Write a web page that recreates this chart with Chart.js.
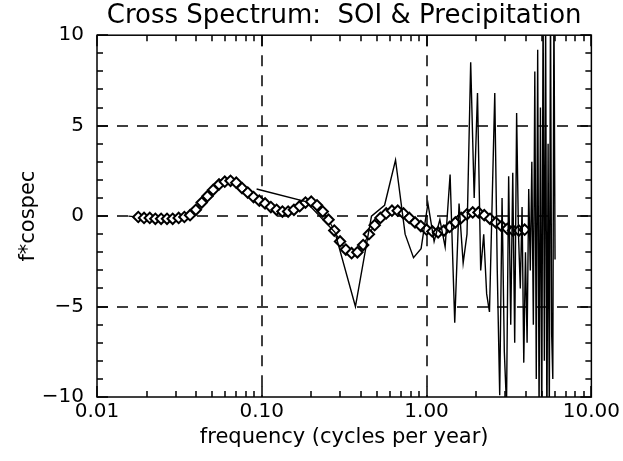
<!DOCTYPE html>
<html>
<head>
<meta charset="utf-8">
<title>Cross Spectrum: SOI & Precipitation</title>
<script src="https://cdn.jsdelivr.net/npm/chart.js@4.4.1/dist/chart.umd.min.js"></script>
<style>
  html, body { margin: 0; padding: 0; background: #fff; }
  canvas { display: block; }
</style>
</head>
<body>
<canvas id="chart" width="623" height="461"></canvas>
<script>
// smoothed cospectrum (diamonds)
const smoothFreq = [0.0155, 0.0178, 0.0193, 0.0209, 0.0226, 0.0245, 0.0266, 0.0288, 0.0313, 0.0339,
  0.0367, 0.0398, 0.0432, 0.0468, 0.0507, 0.0550, 0.0596, 0.0646, 0.0700, 0.0759,
  0.0822, 0.0891, 0.0966, 0.1047, 0.1135, 0.1230, 0.1334, 0.1445, 0.1567, 0.1698,
  0.1841, 0.1995, 0.2163, 0.2344, 0.2541, 0.2754, 0.2985, 0.3236, 0.3508, 0.3802,
  0.4121, 0.4467, 0.4842, 0.5248, 0.5689, 0.6166, 0.6683, 0.7244, 0.7852, 0.8511,
  0.9226, 1.000, 1.084, 1.175, 1.274, 1.380, 1.496, 1.622, 1.758, 1.905,
  2.065, 2.239, 2.427, 2.630, 2.851, 3.090, 3.350, 3.631, 3.936];
const smoothValues = [0, -0.05, -0.1, -0.1, -0.15, -0.15, -0.15, -0.15, -0.1, -0.05,
  0.05, 0.35, 0.75, 1.1, 1.45, 1.75, 1.9, 1.95, 1.85, 1.55,
  1.3, 1.05, 0.85, 0.7, 0.5, 0.35, 0.25, 0.25, 0.35, 0.55,
  0.75, 0.8, 0.6, 0.25, -0.2, -0.8, -1.4, -1.85, -2.05, -2.0,
  -1.6, -1.0, -0.5, -0.1, 0.15, 0.3, 0.3, 0.15, -0.1, -0.35,
  -0.55, -0.75, -0.85, -0.9, -0.8, -0.6, -0.35, -0.1, 0.1, 0.2,
  0.2, 0.05, -0.15, -0.35, -0.55, -0.7, -0.8, -0.8, -0.75];

// raw cospectrum (thin line)
const rawFreq = [0.093, 0.185, 0.278, 0.370, 0.463, 0.556, 0.648, 0.741, 0.833, 0.926,
  1.019, 1.111, 1.204, 1.296, 1.389, 1.482, 1.574, 1.667, 1.759, 1.852,
  1.945, 2.037, 2.130, 2.222, 2.315, 2.408, 2.500, 2.593, 2.685, 2.778,
  2.871, 2.963, 3.056, 3.148, 3.241, 3.334, 3.426, 3.519, 3.611, 3.704,
  3.797, 3.889, 3.982, 4.074, 4.167, 4.260, 4.352, 4.445, 4.537, 4.630,
  4.723, 4.815, 4.908, 5.000, 5.093, 5.186, 5.278, 5.371, 5.463, 5.556,
  5.649, 5.741, 5.834, 5.926, 6.019];
const rawValues = [1.5, 0.8, -0.9, -5.0, 0.0, 0.6, 3.1, -1.0, -2.3, -1.8,
  0.7, -1.4, -0.2, -1.7, 2.3, -5.9, 0.7, -2.6, -1.0, 8.5,
  1.0, 6.8, -3.0, -1.0, -4.3, -5.3, 0.8, 6.8, -3.0, -9.9,
  1.0, -7.5, -10.5, 2.2, -6.0, 2.4, -7.0, 5.7, -1.0, -4.0,
  0.5, -8.1, -2.0, -7.0, 1.5, -3.0, 3.0, -6.0, 8.0, -9.0,
  9.2, -11, 6.0, -12, 12, -8, 11, -12, 4.0, -11,
  12, -6.5, -9, 12, -2.4];

const xTickValues = [0.01, 0.1, 1, 10];
const xTickLabels = ['0.01', '0.10', '1.00', '10.00'];
const yTickValues = [-10, -5, 0, 5, 10];
const yTickLabels = ['\u221210', '\u22125', '0', '5', '10'];
const gridX = [0.1, 1];
const gridY = [-5, 0, 5];

const smoothPoints = smoothFreq.map((f, i) => ({ x: f, y: smoothValues[i] }));
const rawPoints = rawFreq.map((f, i) => ({ x: f, y: rawValues[i] }));
// first point only carries the short lead-in line, no marker
const smoothRadius = smoothFreq.map((f, i) => i === 0 ? 0 : 5.2);

const FONT = 'DejaVu Sans';

// Box, inward ticks and dashed reference lines
const framePlugin = {
    id: 'frame',
    beforeDatasetsDraw(chart) {
        const { ctx, chartArea: a, scales: { x, y } } = chart;
        ctx.save();
        ctx.strokeStyle = '#000';
        ctx.lineWidth = 1.5;
        ctx.setLineDash([11, 9]);
        gridX.forEach(v => {
            const px = Math.round(x.getPixelForValue(v));
            ctx.beginPath();
            ctx.moveTo(px, a.top);
            ctx.lineTo(px, a.bottom);
            ctx.stroke();
        });
        gridY.forEach(v => {
            const py = Math.round(y.getPixelForValue(v));
            ctx.beginPath();
            ctx.moveTo(a.left, py);
            ctx.lineTo(a.right, py);
            ctx.stroke();
        });
        ctx.restore();
    },
    afterDatasetsDraw(chart) {
        const { ctx, chartArea: a, scales: { x, y } } = chart;
        ctx.save();
        ctx.strokeStyle = '#000';
        ctx.lineWidth = 1.5;
        ctx.strokeRect(a.left, a.top, a.right - a.left, a.bottom - a.top);

        const major = 11, minor = 6;
        ctx.beginPath();
        // y ticks, left and right
        for (let v = -10; v <= 10; v++) {
            const py = Math.round(y.getPixelForValue(v));
            const len = v % 5 === 0 ? major : minor;
            ctx.moveTo(a.left, py); ctx.lineTo(a.left + len, py);
            ctx.moveTo(a.right, py); ctx.lineTo(a.right - len, py);
        }
        // x ticks, bottom and top
        xTickValues.forEach(d => {
            const px = Math.round(x.getPixelForValue(d));
            ctx.moveTo(px, a.bottom); ctx.lineTo(px, a.bottom - major);
            ctx.moveTo(px, a.top); ctx.lineTo(px, a.top + major);
            if (d < 10) {
                for (let k = 2; k <= 9; k++) {
                    const mx = Math.round(x.getPixelForValue(d * k));
                    ctx.moveTo(mx, a.bottom); ctx.lineTo(mx, a.bottom - minor);
                    ctx.moveTo(mx, a.top); ctx.lineTo(mx, a.top + minor);
                }
            }
        });
        ctx.stroke();
        ctx.restore();
    }
};

new Chart(document.getElementById('chart'), {
    type: 'scatter',
    data: {
        datasets: [{
            label: 'raw',
            data: rawPoints,
            showLine: true,
            borderColor: '#000',
            borderWidth: 1.4,
            pointRadius: 0,
            order: 0
        }, {
            label: 'smoothed',
            data: smoothPoints,
            showLine: true,
            borderColor: '#000',
            borderWidth: 1.2,
            pointStyle: 'rectRot',
            pointRadius: smoothRadius,
            pointBackgroundColor: '#fff',
            pointBorderColor: '#000',
            pointBorderWidth: 2,
            order: 1
        }]
    },
    options: {
        responsive: false,
        animation: false,
        layout: { padding: { left: 0, right: 30, top: 0, bottom: 0 } },
        plugins: {
            legend: { display: false },
            tooltip: { enabled: false },
            title: {
                display: true,
                text: 'Cross Spectrum:  SOI & Precipitation',
                fullSize: false,
                color: '#000',
                font: { family: FONT, size: 26, weight: 'normal' },
                padding: { top: 1, bottom: 3 }
            }
        },
        scales: {
            x: {
                type: 'logarithmic',
                min: 0.01,
                max: 10,
                afterBuildTicks: s => { s.ticks = xTickValues.map(v => ({ value: v })); },
                afterFit: s => { s.height = 64; },
                grid: { display: false, drawTicks: false },
                border: { display: false },
                ticks: {
                    autoSkip: false,
                    maxRotation: 0,
                    padding: 3,
                    color: '#000',
                    font: { family: FONT, size: 20 },
                    callback: (v, i) => xTickLabels[i]
                },
                title: {
                    display: true,
                    text: 'frequency (cycles per year)',
                    color: '#000',
                    font: { family: FONT, size: 21 },
                    padding: { top: 0, bottom: 11 }
                }
            },
            y: {
                min: -10,
                max: 10,
                afterBuildTicks: s => { s.ticks = yTickValues.map(v => ({ value: v })); },
                afterFit: s => { s.width = 97; },
                grid: { display: false, drawTicks: false },
                border: { display: false },
                ticks: {
                    padding: 13,
                    color: '#000',
                    font: { family: FONT, size: 20 },
                    callback: (v, i) => yTickLabels[i]
                },
                title: {
                    display: true,
                    text: 'f*cospec',
                    color: '#000',
                    font: { family: FONT, size: 21 },
                    padding: { top: 16, bottom: 0 }
                }
            }
        }
    },
    plugins: [framePlugin]
});
</script>
</body>
</html>
